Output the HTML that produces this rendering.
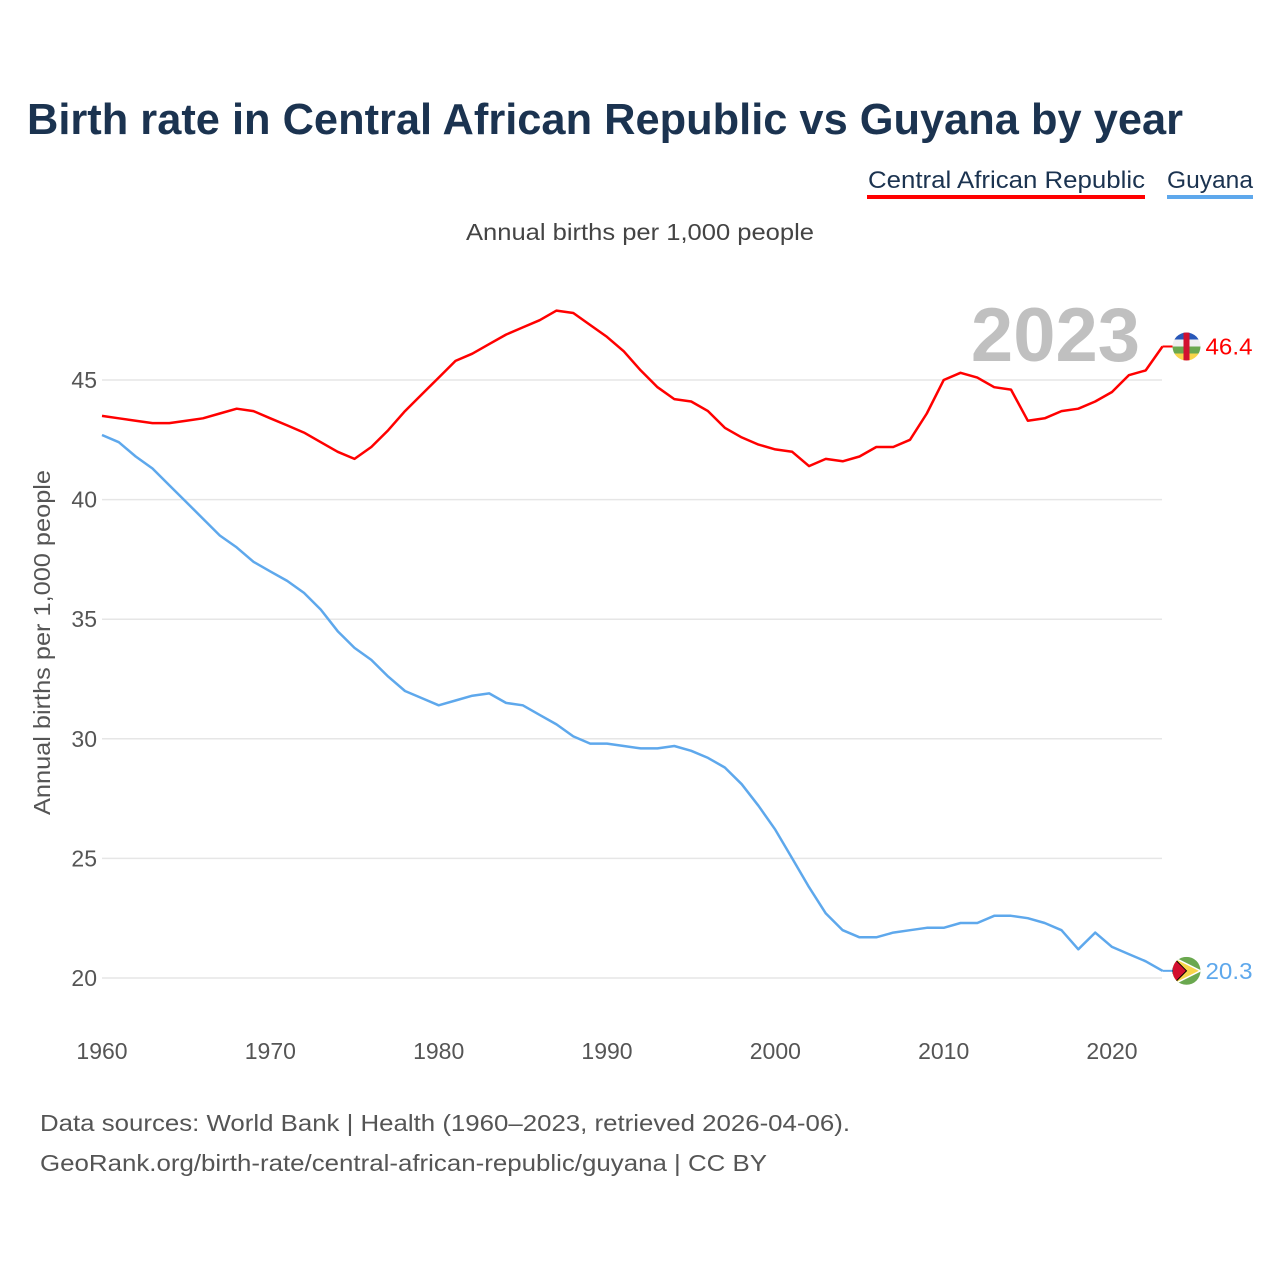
<!DOCTYPE html>
<html><head><meta charset="utf-8">
<style>
body{margin:0;background:#fff;width:1280px;height:1280px;overflow:hidden;font-family:"Liberation Sans",sans-serif;}
</style></head>
<body>
<svg width="1280" height="1280" xmlns="http://www.w3.org/2000/svg" id="chart">
<text x="27" y="134" font-size="44" font-weight="bold" fill="#1b3350" textLength="1156" lengthAdjust="spacingAndGlyphs">Birth rate in Central African Republic vs Guyana by year</text>
<g>
<text x="868" y="188" font-size="24" fill="#1b3350" textLength="277" lengthAdjust="spacingAndGlyphs">Central African Republic</text>
<rect x="867" y="195" width="278" height="4" fill="#ff0000"/>
<text x="1167" y="188" font-size="24" fill="#1b3350" textLength="86" lengthAdjust="spacingAndGlyphs">Guyana</text>
<rect x="1167" y="195" width="86" height="4" fill="#5ea8ec"/>
</g>
<text x="466" y="240" font-size="23" fill="#444" textLength="348" lengthAdjust="spacingAndGlyphs">Annual births per 1,000 people</text>
<text x="1140" y="361" font-size="76" font-weight="bold" fill="#c0c0c0" text-anchor="end">2023</text>
<text transform="translate(50,815) rotate(-90)" font-size="23" fill="#555" textLength="345" lengthAdjust="spacingAndGlyphs">Annual births per 1,000 people</text>
<g id="grid"></g>
<g id="yticks"></g>
<g id="xticks"></g>
<g id="series"></g>
<text x="40" y="1131" font-size="23" fill="#555" textLength="810" lengthAdjust="spacingAndGlyphs">Data sources: World Bank | Health (1960–2023, retrieved 2026-04-06).</text>
<text x="40" y="1171" font-size="23" fill="#555" textLength="727" lengthAdjust="spacingAndGlyphs">GeoRank.org/birth-rate/central-african-republic/guyana | CC BY</text>
</svg>
<script>
const years=[];for(let y=1960;y<=2023;y++)years.push(y);
const carValues=[43.5,43.4,43.3,43.2,43.2,43.3,43.4,43.6,43.8,43.7,43.4,43.1,42.8,42.4,42.0,41.7,42.2,42.9,43.7,44.4,45.1,45.8,46.1,46.5,46.9,47.2,47.5,47.9,47.8,47.3,46.8,46.2,45.4,44.7,44.2,44.1,43.7,43.0,42.6,42.3,42.1,42.0,41.4,41.7,41.6,41.8,42.2,42.2,42.5,43.6,45.0,45.3,45.1,44.7,44.6,43.3,43.4,43.7,43.8,44.1,44.5,45.2,45.4,46.4];
const guyanaValues=[42.7,42.4,41.8,41.3,40.6,39.9,39.2,38.5,38.0,37.4,37.0,36.6,36.1,35.4,34.5,33.8,33.3,32.6,32.0,31.7,31.4,31.6,31.8,31.9,31.5,31.4,31.0,30.6,30.1,29.8,29.8,29.7,29.6,29.6,29.7,29.5,29.2,28.8,28.1,27.2,26.2,25.0,23.8,22.7,22.0,21.7,21.7,21.9,22.0,22.1,22.1,22.3,22.3,22.6,22.6,22.5,22.3,22.0,21.2,21.9,21.3,21.0,20.7,20.3];
const yTicks=[20,25,30,35,40,45];
const xTicks=[1960,1970,1980,1990,2000,2010,2020];
const NS="http://www.w3.org/2000/svg";
function xs(v){return 102+(v-1960)*(1010/60);}
function ys(v){return 978-(v-20)*(598/25);}
function mk(tag,attrs,parent){const e=document.createElementNS(NS,tag);for(const k in attrs)e.setAttribute(k,attrs[k]);parent.appendChild(e);return e;}
const grid=document.getElementById('grid'),yt=document.getElementById('yticks'),xt=document.getElementById('xticks'),ser=document.getElementById('series');
yTicks.forEach(t=>{
 const l=mk('line',{x1:102,x2:1162,y1:ys(t),y2:ys(t),stroke:'#e6e6e6','stroke-width':1.5},grid);
 
 
 const tx=mk('text',{x:97,y:ys(t)+8,'font-size':23,fill:'#555','text-anchor':'end'},yt);
 tx.textContent=t;
 
 
});
xTicks.forEach(t=>{
 const tx=mk('text',{x:xs(t),y:1059,'font-size':23,fill:'#555','text-anchor':'middle'},xt);
 tx.textContent=t;
 
 
});
function line(vals,color,name){
 const d=vals.map((v,i)=>(i?'L':'M')+xs(years[i]).toFixed(1)+','+ys(v).toFixed(1)).join('');
 const p=mk('path',{d:d,fill:'none',stroke:color,'stroke-width':2.5,'stroke-linejoin':'round'},ser);
 
 
 const last=vals[vals.length-1],lx=xs(years[years.length-1]),ly=ys(last);
 const c=mk('line',{x1:lx,x2:lx+10,y1:ly,y2:ly,stroke:color,'stroke-width':2},ser);
 
 
 const t=mk('text',{x:lx+43,y:ly+8,'font-size':23,fill:color,textLength:47,lengthAdjust:'spacingAndGlyphs'},ser);
 t.textContent=last.toFixed(1);
 
 
 return [lx+24,ly];
}
const [cx1,cy1]=line(carValues,'#ff0000','car');
const [cx2,cy2]=line(guyanaValues,'#5ea8ec','guyana');
const R=14;
const f1=mk('g',{},ser);


const clip1=mk('clipPath',{id:'c1'},f1);mk('circle',{cx:cx1,cy:cy1,r:R},clip1);
const g1=mk('g',{'clip-path':'url(#c1)'},f1);
['#2857b8','#f0f0f0','#6aa84f','#f7d54a'].forEach((c,i)=>mk('rect',{x:cx1-R,y:cy1-R+i*R/2,width:2*R,height:R/2,fill:c},g1));
mk('rect',{x:cx1-3,y:cy1-R,width:6,height:2*R,fill:'#d2102f'},g1);
const f2=mk('g',{},ser);


const clip2=mk('clipPath',{id:'c2'},f2);mk('circle',{cx:cx2,cy:cy2,r:R},clip2);
const g2=mk('g',{'clip-path':'url(#c2)'},f2);
mk('rect',{x:cx2-R,y:cy2-R,width:2*R,height:2*R,fill:'#6aa84f'},g2);
mk('polygon',{points:`${cx2-R},${cy2-R} ${cx2+R},${cy2} ${cx2-R},${cy2+R}`,fill:'#f7d54a',stroke:'#fff','stroke-width':1.5},g2);
mk('polygon',{points:`${cx2-R},${cy2-R} ${cx2},${cy2} ${cx2-R},${cy2+R}`,fill:'#d2102f',stroke:'#000','stroke-width':1},g2);
</script>
</body></html>
